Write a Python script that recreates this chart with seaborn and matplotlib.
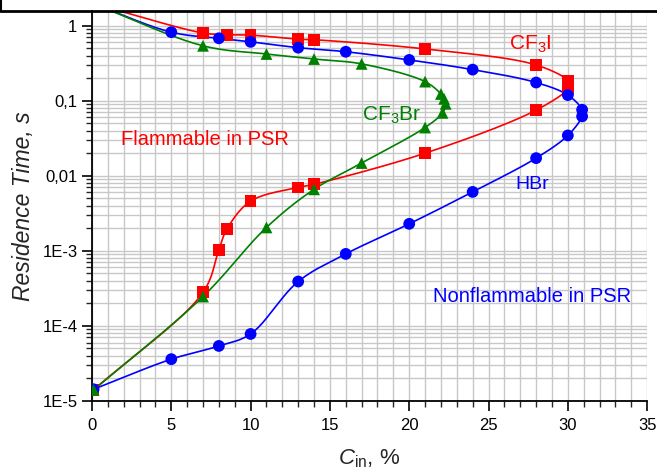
import numpy as np
import pandas as pd
import matplotlib
matplotlib.use("Agg")
import matplotlib.pyplot as plt
import seaborn as sns
from matplotlib.lines import Line2D
from matplotlib.ticker import FixedLocator, FixedFormatter, MultipleLocator, LogLocator, NullFormatter

# data, ordered along each curve (upper branch, then lower)
cf3i_x = [0, 7.0, 8.5, 10, 13, 14, 21, 28, 30, 30, 30, 28, 21, 14, 13, 10, 8.5, 8, 7, 0.1]
cf3i_y = [2.0, 0.80, 0.76, 0.75, 0.66, 0.65, 0.49, 0.30, 0.185, 0.165, 0.145,
          0.075, 0.020, 0.0077, 0.0070, 0.0046, 0.00194, 0.00103, 2.8e-4, 1.4e-5]

hbr_x = [0, 5, 8, 10, 13, 16, 20, 24, 28, 30, 30.9, 30.9, 30, 28, 24, 20, 16, 13, 10, 8, 5, 0.1]
hbr_y = [2.0, 0.82, 0.68, 0.61, 0.51, 0.45, 0.35, 0.26, 0.175, 0.119, 0.076, 0.062,
         0.0345, 0.0172, 0.0061, 0.00229, 9.1e-4, 3.9e-4, 7.8e-5, 5.4e-5, 3.6e-5, 1.43e-5]

cf3br_x = [0, 7, 11, 14, 17, 21, 22, 22.2, 22.3, 22.1, 21, 17, 14, 11, 7, 0.1]
cf3br_y = [2.0, 0.54, 0.42, 0.36, 0.31, 0.18, 0.123, 0.106, 0.091, 0.069, 0.044,
           0.0148, 0.0066, 0.00205, 2.46e-4, 1.4e-5]

ytick_vals = [1e-5, 1e-4, 1e-3, 1e-2, 1e-1, 1]
ytick_labels = ["1E-5", "1E-4", "1E-3", "0,01", "0,1", "1"]


def spline(xs, ys, n=25):
    # centripetal catmull-rom through the points, in screen-like units (x, log y)
    P = np.column_stack([np.asarray(xs) * 15.86, np.log10(ys) * 75.0])
    P = np.vstack([2 * P[0] - P[1], P, 2 * P[-1] - P[-2]])
    out = []
    for i in range(1, len(P) - 2):
        p0, p1, p2, p3 = P[i - 1], P[i], P[i + 1], P[i + 2]
        t0 = 0.0
        t1 = t0 + np.linalg.norm(p1 - p0) ** 0.5
        t2 = t1 + np.linalg.norm(p2 - p1) ** 0.5
        t3 = t2 + np.linalg.norm(p3 - p2) ** 0.5
        t = np.linspace(t1, t2, n)[:, None]
        a1 = (t1 - t) / (t1 - t0) * p0 + (t - t0) / (t1 - t0) * p1
        a2 = (t2 - t) / (t2 - t1) * p1 + (t - t1) / (t2 - t1) * p2
        a3 = (t3 - t) / (t3 - t2) * p2 + (t - t2) / (t3 - t2) * p3
        b1 = (t2 - t) / (t2 - t0) * a1 + (t - t0) / (t2 - t0) * a2
        b2 = (t3 - t) / (t3 - t1) * a2 + (t - t1) / (t3 - t1) * a3
        c = (t2 - t) / (t2 - t1) * b1 + (t - t1) / (t2 - t1) * b2
        out.append(c)
    out = np.vstack(out)
    return out[:, 0] / 15.86, 10 ** (out[:, 1] / 75.0)


sns.set_style("ticks")
plt.rcParams["font.family"] = ["Liberation Sans", "DejaVu Sans"]
plt.rcParams["mathtext.fontset"] = "custom"
plt.rcParams["mathtext.rm"] = "Liberation Sans"
plt.rcParams["mathtext.it"] = "Liberation Sans:italic"

fig = plt.figure(figsize=(6.57, 4.70), dpi=100)
ax = fig.add_axes([0.140, 0.147, 0.845, 0.830])

series = [
    (cf3i_x, cf3i_y, "#ff0000", "s"),
    (hbr_x, hbr_y, "#0000ff", "o"),
    (cf3br_x, cf3br_y, "#008000", "^"),
]
for xs, ys, col, mk in series:
    sx, sy = spline(xs, ys)
    line = pd.DataFrame({"x": sx, "y": sy})
    sns.lineplot(data=line, x="x", y="y", sort=False, estimator=None,
                 color=col, lw=1.2, ax=ax)
    pts = pd.DataFrame({"x": xs, "y": ys})
    sns.scatterplot(data=pts, x="x", y="y", marker=mk, color=col, s=72,
                    edgecolor="none", ax=ax, zorder=3)

ax.set_yscale("log")
ax.set_xlim(0, 35)
ax.set_ylim(1e-5, 1.58)

ax.xaxis.set_major_locator(MultipleLocator(5))
ax.xaxis.set_minor_locator(MultipleLocator(1))
ax.yaxis.set_major_locator(FixedLocator(ytick_vals))
ax.yaxis.set_major_formatter(FixedFormatter(ytick_labels))
ax.yaxis.set_minor_locator(LogLocator(base=10, subs=np.arange(2, 10)))
ax.yaxis.set_minor_formatter(NullFormatter())

ax.grid(which="both", color="#c8c8c8", lw=1.0)
ax.set_axisbelow(True)
for side in ["top", "right"]:
    ax.spines[side].set_visible(False)
for side in ["left", "bottom"]:
    ax.spines[side].set_color("black")
    ax.spines[side].set_linewidth(1.3)
ax.tick_params(which="major", direction="out", length=7, width=1.2, labelsize=12, colors="black")
ax.tick_params(which="minor", direction="out", length=4, width=1.0)
ax.tick_params(axis="x", pad=5)

ax.set_xlabel(r"$C_{\mathrm{in}}$, %", fontsize=16, labelpad=11)
ax.set_ylabel("Residence Time, s", fontsize=16.5, style="italic", labelpad=5)

ax.text(1.8, 0.030, "Flammable in PSR", color="#ff0000", fontsize=14.5, va="center")
ax.text(26.3, 0.56, r"CF$_3$I", color="#ff0000", fontsize=15, va="center")
ax.text(17.0, 0.063, r"CF$_3$Br", color="#008000", fontsize=15, va="center")
ax.text(26.7, 0.0076, "HBr", color="#0000ff", fontsize=14, va="center")
ax.text(21.5, 2.5e-4, "Nonflammable in PSR", color="#0000ff", fontsize=14.5, va="center")

# frame edge of the panel above
ytop = 1 - 11 / 470
fig.add_artist(Line2D([0, 1], [ytop, ytop], transform=fig.transFigure, color="black", lw=2))
fig.add_artist(Line2D([0.001, 0.001], [ytop, 1], transform=fig.transFigure, color="black", lw=1.5))

fig.savefig("out.png", dpi=100)
